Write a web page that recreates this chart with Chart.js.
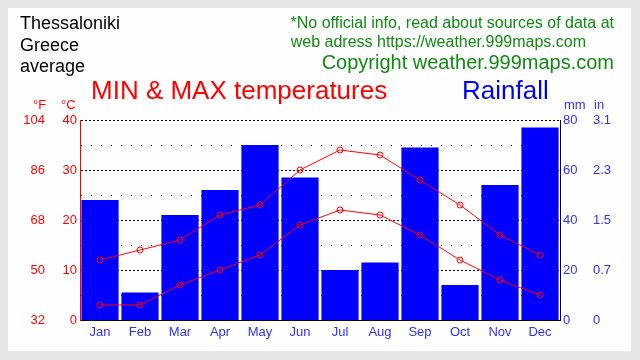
<!DOCTYPE html>
<html>
<head>
<meta charset="utf-8">
<script src="https://cdn.jsdelivr.net/npm/chart.js@4.4.0/dist/chart.umd.min.js"></script>
<style>
  html, body { margin: 0; padding: 0; }
  body { width: 640px; height: 360px; background: #e6e6e6; position: relative; overflow: hidden; font-family: "Liberation Sans", Arial, sans-serif; }
  #panel { position: absolute; left: 8px; top: 8px; width: 623px; height: 343px; background: #fefefe; }
  #chartBox { position: absolute; left: 0; top: 0; width: 640px; height: 360px; }
  .txt { position: absolute; white-space: nowrap; line-height: 1; }
</style>
</head>
<body>
<div id="panel"></div>
<div id="chartBox"><canvas id="climateChart" width="640" height="360"></canvas></div>

<div class="txt" style="left:20px; top:14px; font-size:18px; color:#000;">Thessaloniki</div>
<div class="txt" style="left:20px; top:36px; font-size:18px; color:#000;">Greece</div>
<div class="txt" style="left:20px; top:57px; font-size:18px; color:#000;">average</div>

<div class="txt" style="right:26px; top:15px; font-size:16px; color:#108a10;">*No official info, read about sources of data at</div>
<div class="txt" style="right:54px; top:34px; font-size:16px; color:#108a10;">web adress https://weather.999maps.com</div>
<div class="txt" style="right:26px; top:52px; font-size:20px; color:#108a10;">Copyright weather.999maps.com</div>

<div class="txt" style="left:91px; top:77px; font-size:26px; color:#ff0000;">MIN &amp; MAX temperatures</div>
<div class="txt" style="left:462px; top:77px; font-size:26px; color:#0000ff;">Rainfall</div>

<div class="txt" style="left:33px; top:98px; font-size:13px; color:#ff0000;">°F</div>
<div class="txt" style="left:61px; top:98px; font-size:13px; color:#ff0000;">°C</div>
<div class="txt" style="left:564px; top:98px; font-size:13px; color:#3030ff;">mm</div>
<div class="txt" style="left:594px; top:98px; font-size:13px; color:#3030ff;">in</div>

<script>
const months = ['Jan', 'Feb', 'Mar', 'Apr', 'May', 'Jun', 'Jul', 'Aug', 'Sep', 'Oct', 'Nov', 'Dec'];
const maxTemp = [12, 14, 16, 21, 23, 30, 34, 33, 28, 23, 17, 13];
const minTemp = [3, 3, 7, 10, 13, 19, 22, 21, 17, 12, 8, 5];
const rainMm = [48, 11, 42, 52, 70, 57, 20, 23, 69, 14, 54, 77];
const fahrenheitLabels = ['32', '50', '68', '86', '104'];
const inchLabels = ['0', '0.7', '1.5', '2.3', '3.1'];

const RED = '#ff0000';
const BLUE = '#3030ff';
const tickFont = { family: 'Liberation Sans', size: 13 };

function fixWidth(w) {
    return function (scale) { scale.width = w; };
}

const ctx = document.getElementById('climateChart').getContext('2d');

const climateChart = new Chart(ctx, {
    type: 'bar',
    data: {
        labels: months,
        datasets: [
            {
                type: 'line',
                label: 'max',
                data: maxTemp,
                yAxisID: 'yC',
                borderColor: RED,
                borderWidth: 1,
                pointRadius: 3,
                pointBorderColor: RED,
                pointBackgroundColor: 'rgba(0,0,0,0)',
                pointBorderWidth: 1,
                tension: 0,
                order: 0
            },
            {
                type: 'line',
                label: 'min',
                data: minTemp,
                yAxisID: 'yC',
                borderColor: RED,
                borderWidth: 1,
                pointRadius: 3,
                pointBorderColor: RED,
                pointBackgroundColor: 'rgba(0,0,0,0)',
                pointBorderWidth: 1,
                tension: 0,
                order: 1
            },
            {
                label: 'rain',
                data: rainMm,
                yAxisID: 'yMM',
                backgroundColor: '#0000ff',
                borderWidth: 0,
                barPercentage: 0.93,
                categoryPercentage: 1,
                order: 2
            }
        ]
    },
    options: {
        responsive: false,
        animation: false,
        layout: { padding: { left: 8, right: 10, top: 120, bottom: 0 } },
        plugins: {
            legend: { display: false },
            tooltip: { enabled: false },
            title: { display: false }
        },
        scales: {
            x: {
                grid: { display: false, drawTicks: false },
                border: { color: '#000', width: 1 },
                ticks: { color: BLUE, font: tickFont, padding: 5 },
                afterFit: function (scale) { scale.height = 40; }
            },
            yC: {
                position: 'left',
                weight: 0,
                min: 0,
                max: 40,
                grid: { color: '#000', lineWidth: 1, drawTicks: false, tickLength: 0 },
                border: {
                    color: RED,
                    width: 1,
                    dash: function (c) {
                        if (!c.tick) return [];
                        return c.tick.value % 10 === 0 ? [2, 2] : [1, 9];
                    }
                },
                ticks: {
                    stepSize: 5,
                    autoSkip: false,
                    color: RED,
                    font: tickFont,
                    padding: 3,
                    callback: function (v) { return v % 10 === 0 ? String(v) : ''; }
                },
                afterFit: fixWidth(32)
            },
            yF: {
                position: 'left',
                weight: 1,
                min: 0,
                max: 40,
                grid: { display: false, drawTicks: false },
                border: { display: false },
                ticks: {
                    stepSize: 10,
                    color: RED,
                    font: tickFont,
                    padding: 3,
                    callback: function (v, i) { return fahrenheitLabels[i]; }
                },
                afterFit: fixWidth(40)
            },
            yMM: {
                position: 'right',
                weight: 0,
                min: 0,
                max: 80,
                grid: { display: false, drawTicks: false },
                border: { color: '#000', width: 1 },
                ticks: { stepSize: 20, color: BLUE, font: tickFont, padding: 3 },
                afterFit: fixWidth(30)
            },
            yIn: {
                position: 'right',
                weight: 1,
                min: 0,
                max: 80,
                grid: { display: false, drawTicks: false },
                border: { display: false },
                ticks: {
                    stepSize: 20,
                    color: BLUE,
                    font: tickFont,
                    padding: 3,
                    callback: function (v, i) { return inchLabels[i]; }
                },
                afterFit: fixWidth(40)
            }
        }
    }
});
</script>
</body>
</html>
